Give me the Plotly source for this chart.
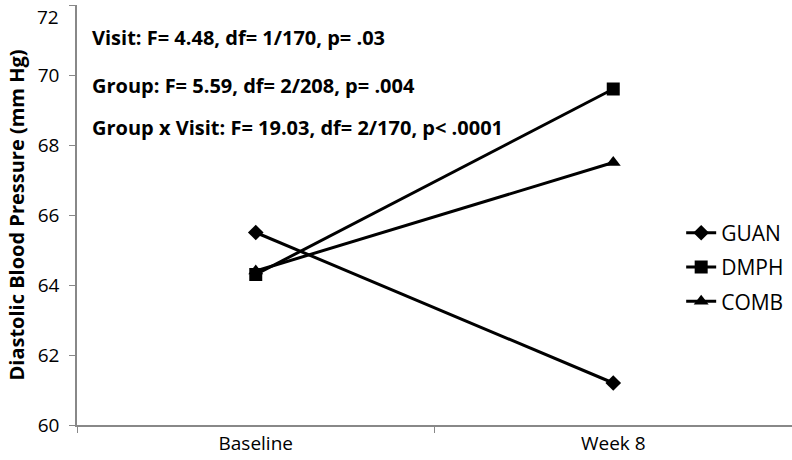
import plotly.graph_objects as go

visits = ["Baseline", "Week 8"]
guan = [65.5, 61.2]
dmph = [64.3, 69.6]
comb = [64.4, 67.5]
series_names = ["GUAN", "DMPH", "COMB"]
symbols = ["diamond", "square", "triangle-up"]
y_ticks = [60, 62, 64, 66, 68, 70, 72]
stats_lines = [
    "Visit: F= 4.48, df= 1/170, p= .03",
    "Group: F= 5.59, df= 2/208, p= .004",
    "Group x Visit: F= 19.03, df= 2/170, p< .0001",
]
stats_y = [71.06, 69.71, 68.51]

FONT = "'Open Sans', sans-serif"

fig = go.Figure()
for name, vals, sym in zip(series_names, [guan, dmph, comb], symbols):
    fig.add_trace(go.Scatter(
        x=visits, y=vals, name=name, mode="lines+markers", legendgroup=name,
        line=dict(color="black", width=3),
        marker=dict(symbol=sym, size=13 if sym != "diamond" else 12, color="black"),
    ))

for txt, yy in zip(stats_lines, stats_y):
    fig.add_annotation(
        x=0.018, xref="paper", y=yy, yref="y", text="<b>%s</b>" % txt,
        showarrow=False, xanchor="left", yanchor="middle",
        font=dict(family=FONT, size=20, color="black"),
    )

# top tick label sits just below the top edge (as in the original)
tick_text = [str(v) for v in y_ticks[:-1]] + [""]
fig.add_annotation(
    x=0, xref="paper", xshift=-16, y=y_ticks[-1], yref="y", yshift=3,
    text=str(y_ticks[-1]), showarrow=False, xanchor="right", yanchor="top",
    font=dict(family=FONT, size=19, color="black"),
)

fig.update_layout(
    width=792, height=460,
    margin=dict(l=77, r=0, t=5, b=35),
    plot_bgcolor="white", paper_bgcolor="white",
    font=dict(family=FONT, size=19, color="black"),
    showlegend=True,
    legend=dict(x=0.845, y=0.376, xanchor="left", yanchor="middle",
                font=dict(family=FONT, size=21, color="black"),
                bgcolor="rgba(0,0,0,0)", itemwidth=30, tracegroupgap=4),
)
fig.update_xaxes(
    type="category", range=[-0.5, 1.5], showline=True, linecolor="#888888",
    linewidth=1.5, ticks="outside", tickson="boundaries", ticklen=6,
    tickcolor="#888888", showgrid=False, zeroline=False, automargin=False,
    tickfont=dict(family=FONT, size=19),
)
fig.update_yaxes(
    range=[60, 72], tickvals=y_ticks, ticktext=tick_text, showline=True,
    linecolor="#888888", linewidth=1.5, ticks="outside", ticklen=6,
    tickcolor="#888888", ticklabelstandoff=6,
    showgrid=False, zeroline=False, automargin=False,
    tickfont=dict(family=FONT, size=19),
    title=dict(text="<b>Diastolic Blood Pressure (mm Hg)</b>",
               font=dict(family=FONT, size=20), standoff=8),
)

fig.write_html("out.html", config={"displayModeBar": False},
               post_script="document.body.style.margin='0';")
